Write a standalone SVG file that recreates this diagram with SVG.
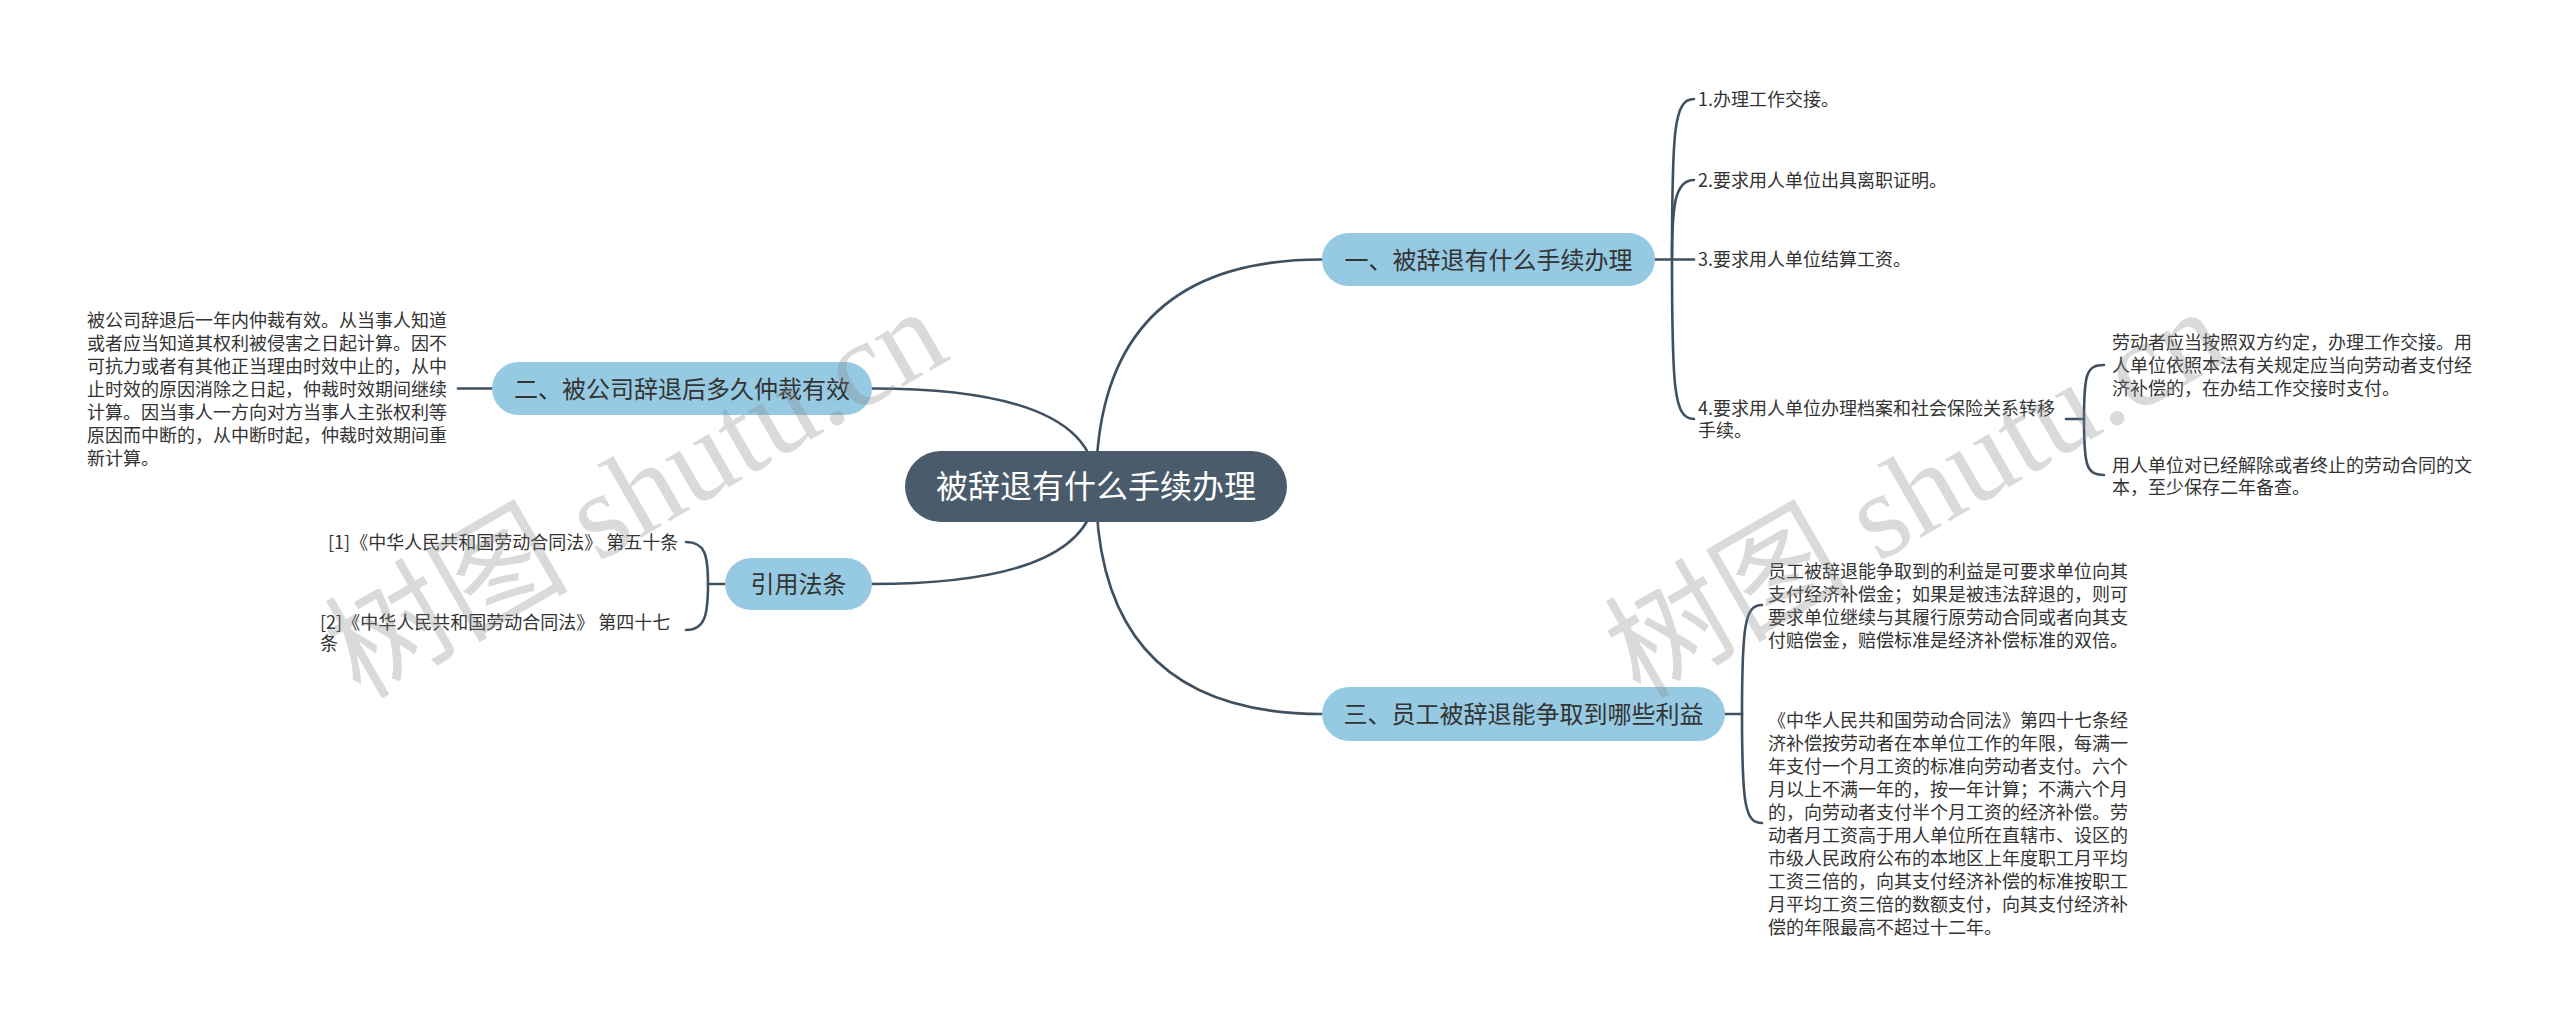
<svg xmlns="http://www.w3.org/2000/svg" width="2560" height="1027" viewBox="0 0 2560 1027">
<style>
.bg{fill:#ffffff}
.root{fill:#4a5b6b}
.main{fill:#96cae2}
.rt{fill:#ffffff;font-family:"Noto Sans CJK SC","Noto Sans",sans-serif;font-size:32px;text-anchor:middle}
.mt{fill:#333333;font-family:"Noto Sans CJK SC","Noto Sans",sans-serif;font-size:24px;text-anchor:middle}
.lt{fill:#333333;font-family:"Noto Sans CJK SC","Noto Sans",sans-serif;font-size:18px}
.con{fill:none;stroke:#3f5060;stroke-width:2.6;stroke-linecap:round}
.wm{fill:#888888;opacity:0.3;font-family:"Liberation Serif","Noto Sans CJK SC",serif;font-size:122px}
</style>
<rect class="bg" x="0" y="0" width="2560" height="1027"/>
<g id="connectors">
<path class="con" d="M1096,486 Q1096,259.5 1322,259.5"/>
<path class="con" d="M1096,486 Q1096,714 1322,714"/>
<path class="con" d="M1096,486 Q1096,388.5 872,388.5"/>
<path class="con" d="M1096,486 Q1096,584 872,584"/>
<path class="con" d="M492,388.5 H458"/>
<path class="con" d="M1655,259.5 H1694"/>
<path class="con" d="M1672,259.5 C1672,130 1674,99 1694,99"/>
<path class="con" d="M1672,259.5 C1672,205 1675,180 1694,180"/>
<path class="con" d="M1672,259.5 C1672,390 1674,419 1694,419"/>
<path class="con" d="M2066,419 H2084"/>
<path class="con" d="M2084,419 C2084,375 2086,365 2104,365"/>
<path class="con" d="M2084,419 C2084,465 2086,475 2104,475"/>
<path class="con" d="M1725,714 H1742"/>
<path class="con" d="M1742,714 C1742,625 1745,605 1762,605"/>
<path class="con" d="M1742,714 C1742,805 1745,823 1762,823"/>
<path class="con" d="M725,584 H708"/>
<path class="con" d="M708,584 C708,555 705,542 686,542"/>
<path class="con" d="M708,584 C708,615 705,630 686,630"/>
</g>
<g id="root">
<rect class="root" x="905" y="451" width="382" height="71" rx="35.5"/>
<text class="rt" x="1096" y="498">被辞退有什么手续办理</text>
</g>
<g id="n1">
<rect class="main" x="1322" y="233" width="333" height="53" rx="26.5"/>
<text class="mt" x="1488.5" y="268.5">一、被辞退有什么手续办理</text>
</g>
<g id="n2">
<rect class="main" x="492" y="362" width="380" height="53" rx="26.5"/>
<text class="mt" x="682" y="397.5">二、被公司辞退后多久仲裁有效</text>
</g>
<g id="n3">
<rect class="main" x="1322" y="687" width="403" height="54" rx="27"/>
<text class="mt" x="1523.5" y="723">三、员工被辞退能争取到哪些利益</text>
</g>
<g id="n4">
<rect class="main" x="725" y="558" width="147" height="52" rx="26"/>
<text class="mt" x="798.5" y="593">引用法条</text>
</g>
<g id="n1-1"><text class="lt" x="1698" y="106">1.办理工作交接。</text></g>
<g id="n1-2"><text class="lt" x="1698" y="187">2.要求用人单位出具离职证明。</text></g>
<g id="n1-3"><text class="lt" x="1698" y="266">3.要求用人单位结算工资。</text></g>
<g id="n1-4"><text class="lt" x="1698" y="415">4.要求用人单位办理档案和社会保险关系转移</text><text class="lt" x="1698" y="437">手续。</text></g>
<g id="n1-4-1">
<text class="lt" x="2112" y="349">劳动者应当按照双方约定，办理工作交接。用</text>
<text class="lt" x="2112" y="372">人单位依照本法有关规定应当向劳动者支付经</text>
<text class="lt" x="2112" y="395">济补偿的，在办结工作交接时支付。</text>
</g>
<g id="n1-4-2">
<text class="lt" x="2112" y="472">用人单位对已经解除或者终止的劳动合同的文</text>
<text class="lt" x="2112" y="494">本，至少保存二年备查。</text>
</g>
<g id="n2-1">
<text class="lt" x="87" y="327">被公司辞退后一年内仲裁有效。从当事人知道</text>
<text class="lt" x="87" y="350">或者应当知道其权利被侵害之日起计算。因不</text>
<text class="lt" x="87" y="373">可抗力或者有其他正当理由时效中止的，从中</text>
<text class="lt" x="87" y="396">止时效的原因消除之日起，仲裁时效期间继续</text>
<text class="lt" x="87" y="419">计算。因当事人一方向对方当事人主张权利等</text>
<text class="lt" x="87" y="442">原因而中断的，从中断时起，仲裁时效期间重</text>
<text class="lt" x="87" y="465">新计算。</text>
</g>
<g id="n3-1">
<text class="lt" x="1768" y="578">员工被辞退能争取到的利益是可要求单位向其</text>
<text class="lt" x="1768" y="601">支付经济补偿金；如果是被违法辞退的，则可</text>
<text class="lt" x="1768" y="624">要求单位继续与其履行原劳动合同或者向其支</text>
<text class="lt" x="1768" y="647">付赔偿金，赔偿标准是经济补偿标准的双倍。</text>
</g>
<g id="n3-2">
<text class="lt" x="1768" y="727">《中华人民共和国劳动合同法》第四十七条经</text>
<text class="lt" x="1768" y="750">济补偿按劳动者在本单位工作的年限，每满一</text>
<text class="lt" x="1768" y="773">年支付一个月工资的标准向劳动者支付。六个</text>
<text class="lt" x="1768" y="796">月以上不满一年的，按一年计算；不满六个月</text>
<text class="lt" x="1768" y="819">的，向劳动者支付半个月工资的经济补偿。劳</text>
<text class="lt" x="1768" y="842">动者月工资高于用人单位所在直辖市、设区的</text>
<text class="lt" x="1768" y="865">市级人民政府公布的本地区上年度职工月平均</text>
<text class="lt" x="1768" y="888">工资三倍的，向其支付经济补偿的标准按职工</text>
<text class="lt" x="1768" y="911">月平均工资三倍的数额支付，向其支付经济补</text>
<text class="lt" x="1768" y="934">偿的年限最高不超过十二年。</text>
</g>
<g id="n4-1"><text class="lt" x="328" y="549">[1]《中华人民共和国劳动合同法》 第五十条</text></g>
<g id="n4-2"><text class="lt" x="320" y="629">[2]《中华人民共和国劳动合同法》 第四十七</text><text class="lt" x="320" y="650">条</text></g>
<g id="watermark">
<text class="wm" transform="translate(360,700) rotate(-30)">树图 shutu.cn</text>
<text class="wm" transform="translate(1640,700) rotate(-30)">树图 shutu.cn</text>
</g>
</svg>
